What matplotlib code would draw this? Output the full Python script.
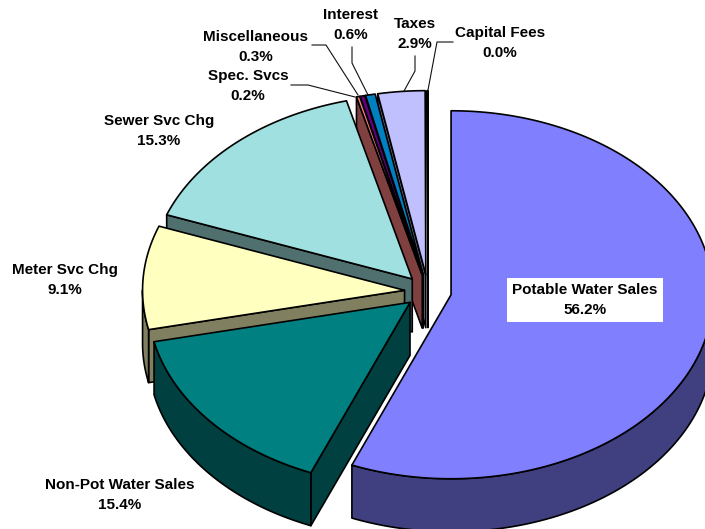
import numpy as np
import matplotlib
matplotlib.use('Agg')
from matplotlib import pyplot as plt
from matplotlib.patches import Polygon

names = ['Potable Water Sales', 'Non-Pot Water Sales', 'Meter Svc Chg', 'Sewer Svc Chg',
         'Spec. Svcs', 'Miscellaneous', 'Interest', 'Taxes', 'Capital Fees']
values = [56.2, 15.4, 9.1, 15.3, 0.2, 0.3, 0.6, 2.9, 0.04]
top_colors = ['#8080FF', '#008080', '#FFFFC0', '#A0E0E0', '#FF8080',
              '#600080', '#0080C0', '#C0C0FF', '#404040']
side_colors = ['#404080', '#004040', '#808060', '#507070', '#804040',
               '#300040', '#004060', '#606080', '#202020']

# pie geometry in pixels
cx, cy = 428, 291.5
rx, ry = 262, 184
depth = 53
explode = 23.5
squash = 0.72

# label centres (pixels)
label_pos = [(585, 300), (120, 495), (65, 280), (159, 131), (248, 86),
             (256, 47), (351, 25), (415, 34), (500, 43)]
leaders = [
    [(291, 85), (308, 85), (355, 97)],
    [(312, 45), (326, 45), (358, 95)],
    [(352, 47), (352, 63), (368, 95)],
    [(415, 56), (415, 71), (404, 91)],
    [(453, 42), (437, 42), (428, 90)],
]

fig = plt.figure(figsize=(7.05, 5.29), dpi=100)
ax = fig.add_axes([0, 0, 1, 1])
ax.set_xlim(0, 705)
ax.set_ylim(529, 0)
ax.axis('off')

def arc(ox, oy, a, b, dy=0):
    t = np.radians(np.linspace(a, b, max(int(abs(b - a)) * 2, 2)))
    return np.column_stack([ox + rx * np.sin(t), oy - ry * np.cos(t) + dy])

def add_poly(pts, color, z):
    ax.add_patch(Polygon(pts, closed=True, facecolor=color, edgecolor='black',
                         linewidth=1.2, joinstyle='round', zorder=z))

edges = np.concatenate([[0], np.cumsum(values)]) / sum(values) * 360
z = 1
# back to front: the small slices first, then round from sewer to potable
for i in [8, 7, 6, 5, 4, 3, 2, 1, 0]:
    s, e = edges[i], edges[i + 1]
    mid = np.radians((s + e) / 2)
    ox = cx + explode * np.sin(mid)
    oy = cy - explode * squash * np.cos(mid)
    outer = arc(ox, oy, s, e)
    # cut face at the start angle
    if 180 < s < 360:
        p = outer[0]
        add_poly([(ox, oy), p, (p[0], p[1] + depth), (ox, oy + depth)], side_colors[i], z)
        z += 1
    # rim
    a, b = max(s, 90), min(e, 270)
    if a < b:
        up = arc(ox, oy, a, b)
        down = arc(ox, oy, a, b, depth)
        add_poly(np.vstack([up, down[::-1]]), side_colors[i], z)
        z += 1
    add_poly(np.vstack([[(ox, oy)], outer]), top_colors[i], z)
    z += 1

for line in leaders:
    xs, ys = zip(*line)
    ax.plot(xs, ys, color='#101010', linewidth=0.8, zorder=z)

for i, name in enumerate(names):
    box = None
    if i == 0:
        box = dict(facecolor='white', edgecolor='none', pad=4)
    ax.text(label_pos[i][0], label_pos[i][1], '%s\n%.1f%%' % (name, values[i]),
            family=['Liberation Sans', 'DejaVu Sans'], fontweight='bold', fontsize=11.0,
            ha='center', va='center', linespacing=1.5, color='black', bbox=box, zorder=z + 1)

fig.savefig('out.png', dpi=100)
